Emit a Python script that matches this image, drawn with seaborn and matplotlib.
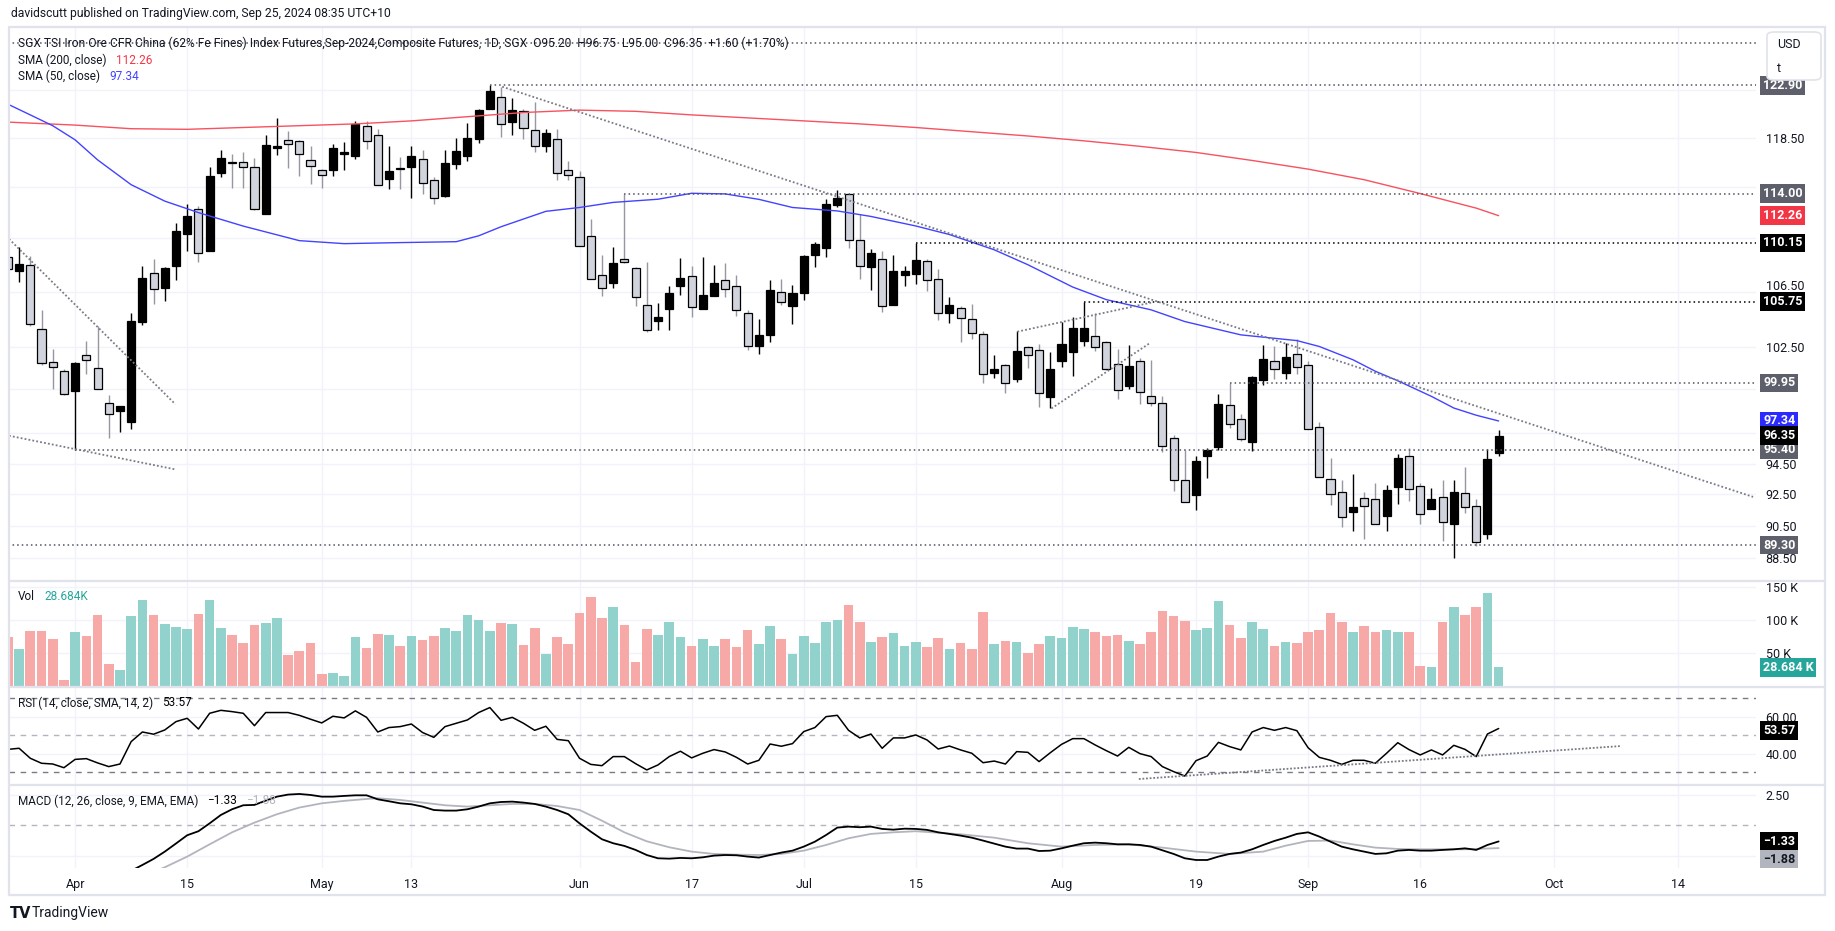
import numpy as np
import pandas as pd
import matplotlib
matplotlib.use("Agg")
import matplotlib.pyplot as plt
import seaborn as sns
from matplotlib.ticker import FixedLocator, NullLocator, FuncFormatter, NullFormatter
from matplotlib.patches import Rectangle, FancyBboxPatch
from matplotlib.lines import Line2D

# ---------------------------------------------------------------- data
dates = pd.bdate_range("2024-03-22", "2024-09-25")          # daily bars
bar = np.arange(len(dates)) - 6                               # 0 = 1 Apr 2024

open_ = [109.10, 108.02, 108.49, 103.78, 101.43, 100.80, 99.39, 101.88, 101.01, 98.59,
         98.04, 97.28, 104.26, 107.89, 106.75, 108.39, 110.84, 112.78, 109.57, 115.63,
         116.54, 116.54, 116.11, 112.37, 117.65, 118.33, 118.25, 116.70, 115.87, 115.84,
         117.16, 117.05, 119.45, 118.71, 115.15, 116.05, 116.11, 116.75, 115.07, 113.82,
         116.35, 117.05, 118.38, 120.87, 121.94, 119.81, 120.70, 119.12, 117.81, 118.38,
         115.87, 115.31, 110.66, 107.72, 107.10, 108.92, 108.25, 105.50, 104.32, 105.19,
         106.90, 107.65, 105.19, 106.14, 107.35, 106.90, 104.92, 102.57, 103.31, 106.46,
         105.41, 106.36, 109.20, 109.80, 113.13, 113.94, 110.36, 108.32, 108.92, 105.48,
         107.72, 107.77, 108.77, 107.42, 104.92, 105.28, 104.49, 103.41, 100.65, 101.21,
         100.24, 102.46, 102.26, 98.99, 101.49, 102.12, 102.88, 103.24, 102.83, 101.28,
         99.72, 101.49, 99.06, 98.58, 96.20, 93.46, 92.46, 94.99, 95.58, 98.45,
         97.48, 95.92, 100.17, 101.49, 100.61, 101.97, 101.19, 96.94, 93.51, 92.67,
         91.37, 92.29, 92.22, 91.12, 92.97, 95.01, 93.06, 91.58, 92.35, 90.60,
         92.61, 91.78, 89.97, 95.20]
high = [109.60, 109.85, 109.14, 105.13, 102.35, 100.90, 101.40, 102.88, 103.97, 99.10,
        98.36, 104.89, 108.44, 108.94, 108.35, 111.69, 113.20, 113.04, 116.16, 117.51,
        117.19, 117.35, 116.86, 118.71, 120.11, 119.07, 118.30, 117.84, 115.95, 118.00,
        118.14, 119.89, 119.92, 119.23, 117.84, 116.97, 117.84, 117.46, 115.31, 117.51,
        118.49, 119.70, 120.89, 122.90, 122.79, 121.79, 120.89, 121.51, 119.23, 119.23,
        116.62, 115.79, 112.00, 109.25, 109.85, 114.00, 108.30, 108.72, 105.65, 106.88,
        109.00, 108.37, 109.12, 108.50, 108.62, 107.75, 105.16, 104.51, 107.37, 107.45,
        107.00, 109.25, 110.21, 113.54, 114.28, 114.00, 112.40, 109.70, 109.55, 109.25,
        108.37, 110.15, 108.95, 108.20, 106.12, 105.41, 105.60, 103.65, 101.93, 101.28,
        103.60, 102.53, 102.72, 102.12, 104.27, 104.61, 105.75, 104.92, 102.90, 102.36,
        102.64, 101.70, 101.54, 99.06, 96.37, 95.43, 95.03, 95.50, 99.20, 99.95,
        97.84, 100.45, 102.63, 102.56, 102.75, 103.03, 101.45, 97.28, 94.88, 93.40,
        93.79, 92.67, 93.25, 93.12, 95.10, 95.54, 93.25, 92.89, 93.46, 93.40,
        94.31, 92.18, 95.47, 96.75]
low = [107.90, 107.19, 103.97, 101.20, 99.56, 99.10, 95.40, 100.59, 99.56, 96.22,
       96.63, 96.83, 104.07, 105.61, 105.79, 107.34, 109.52, 108.69, 109.52, 115.31,
       114.43, 114.43, 112.73, 112.37, 117.11, 116.00, 115.36, 114.75, 114.41, 115.36,
       115.84, 116.75, 117.57, 114.67, 114.35, 114.35, 113.64, 113.98, 113.20, 113.72,
       115.95, 116.57, 118.05, 120.87, 118.60, 118.76, 118.41, 117.30, 117.30, 115.09,
       115.04, 109.95, 107.40, 106.14, 106.76, 108.60, 105.41, 103.53, 103.72, 103.72,
       106.27, 104.61, 105.19, 106.14, 106.07, 104.68, 102.24, 101.96, 102.86, 105.48,
       104.10, 105.90, 108.30, 109.10, 112.97, 109.73, 107.45, 106.58, 104.97, 105.48,
       106.88, 107.07, 106.51, 104.39, 104.20, 102.81, 103.05, 99.95, 100.28, 99.27,
       100.02, 101.00, 98.28, 98.19, 101.07, 100.42, 102.53, 102.19, 100.88, 98.81,
       99.54, 98.47, 98.35, 95.26, 92.75, 92.03, 91.50, 93.53, 95.43, 96.87,
       95.98, 95.32, 99.78, 100.24, 100.24, 100.59, 96.81, 93.62, 91.80, 90.43,
       90.18, 89.70, 90.64, 90.18, 91.86, 92.08, 90.60, 91.58, 89.56, 88.51,
       91.33, 89.24, 89.66, 95.00]
close = [108.20, 108.59, 104.14, 101.32, 101.08, 99.17, 101.36, 101.58, 99.56, 97.78,
         98.36, 104.31, 107.54, 106.70, 108.29, 111.10, 112.26, 109.39, 115.41, 116.86,
         116.46, 116.11, 112.78, 117.89, 117.81, 117.97, 117.16, 116.19, 115.47, 117.67,
         117.35, 119.64, 118.25, 114.67, 115.81, 115.95, 117.00, 114.83, 113.67, 116.43,
         117.43, 118.46, 120.78, 122.39, 119.64, 120.81, 119.29, 117.84, 118.87, 115.63,
         115.47, 109.95, 107.42, 106.76, 108.62, 108.70, 106.12, 103.70, 104.63, 106.39,
         107.52, 105.36, 106.24, 107.12, 106.68, 105.14, 102.53, 103.34, 106.61, 105.73,
         106.39, 109.17, 110.09, 113.18, 113.62, 110.36, 108.37, 109.37, 105.45, 108.05,
         108.05, 108.87, 107.37, 104.92, 105.53, 104.56, 103.48, 100.58, 100.95, 99.95,
         102.19, 101.93, 99.27, 100.95, 102.72, 103.84, 103.84, 102.48, 100.95, 99.49,
         101.16, 99.33, 98.58, 95.68, 93.41, 92.03, 94.70, 95.43, 98.52, 97.14,
         96.14, 100.38, 101.63, 100.91, 101.75, 101.05, 96.81, 93.62, 92.54, 91.08,
         91.71, 91.75, 90.64, 92.76, 94.84, 92.82, 91.27, 92.22, 90.77, 92.67,
         91.71, 89.51, 94.77, 96.35]
volume_k = [75.1, 55.8, 83.2, 83.2, 71.1, 10.2, 82.2, 75.6, 107.6, 34.5,
            24.4, 106.1, 130.5, 107.6, 93.9, 89.3, 86.3, 109.1, 130.5, 87.8,
            77.2, 65.0, 92.4, 95.4, 103.0, 48.2, 52.8, 65.0, 19.3, 20.8,
            16.2, 74.1, 57.4, 78.7, 77.2, 60.4, 75.6, 69.5, 75.6, 87.8,
            83.2, 107.6, 100.0, 83.2, 95.4, 93.9, 61.9, 87.8, 49.7, 74.1,
            63.5, 110.7, 135.0, 103.0, 119.8, 92.4, 37.6, 86.3, 77.2, 97.0,
            74.1, 60.4, 71.1, 60.4, 71.1, 58.9, 84.8, 63.5, 90.9, 71.1,
            49.7, 75.6, 65.0, 97.0, 100.0, 122.8, 97.0, 66.5, 74.1, 80.2,
            61.6, 67.7, 59.9, 73.5, 56.9, 65.9, 56.9, 112.7, 64.4, 68.9,
            67.4, 50.8, 64.4, 76.5, 73.5, 90.1, 87.1, 82.5, 76.5, 78.0,
            68.9, 64.4, 82.5, 114.2, 107.2, 99.1, 85.6, 88.6, 129.3, 93.1,
            73.5, 97.6, 87.1, 61.4, 67.4, 65.9, 82.5, 85.6, 111.2, 97.6,
            82.5, 91.6, 82.5, 85.6, 82.5, 82.5, 31.2, 29.7, 97.6, 120.3,
            108.2, 120.3, 141.4, 28.684]
rsi = [42.3, 42.9, 37.5, 34.8, 34.4, 32.4, 36.9, 37.3, 35.0, 33.0,
       34.4, 46.5, 51.7, 50.5, 52.8, 57.3, 59.1, 53.3, 61.8, 63.4,
       62.7, 61.8, 55.1, 62.2, 62.2, 62.2, 60.7, 58.6, 56.6, 60.2,
       59.3, 63.1, 59.6, 51.7, 54.1, 54.6, 56.0, 51.4, 48.8, 54.6,
       56.4, 58.2, 62.2, 64.9, 58.0, 59.6, 56.4, 52.6, 54.8, 47.7,
       47.0, 37.5, 34.2, 33.5, 38.4, 38.4, 34.6, 31.2, 33.9, 38.4,
       41.3, 37.7, 40.2, 42.2, 40.9, 38.0, 34.4, 36.4, 45.2, 44.0,
       45.4, 51.9, 54.1, 60.0, 60.7, 52.6, 48.5, 50.6, 42.9, 48.5,
       48.5, 50.1, 47.4, 42.5, 44.1, 42.0, 40.2, 35.1, 36.0, 34.4,
       41.1, 40.7, 35.7, 40.5, 45.0, 48.1, 48.1, 44.7, 41.6, 38.7,
       43.4, 40.0, 38.4, 33.0, 30.3, 27.9, 36.2, 38.7, 46.1, 43.8,
       42.0, 51.7, 54.1, 52.6, 54.1, 52.4, 43.2, 38.0, 36.4, 34.2,
       36.4, 36.4, 34.8, 40.2, 45.9, 42.2, 39.3, 42.0, 39.3, 44.5,
       42.3, 38.4, 50.6, 53.57]
nan = np.nan
macd = [nan, nan, nan, nan, nan, nan, nan, nan, nan, nan,
        -4.30, -3.75, -3.27, -2.77, -2.17, -1.50, -0.82, -0.49, 0.16, 0.85,
        1.32, 1.65, 1.68, 2.03, 2.36, 2.53, 2.58, 2.50, 2.36, 2.36,
        2.42, 2.47, 2.47, 2.14, 1.98, 1.81, 1.73, 1.54, 1.26, 1.21,
        1.21, 1.32, 1.54, 1.81, 1.92, 1.95, 1.87, 1.76, 1.54, 1.26,
        0.91, 0.16, -0.52, -1.15, -1.48, -1.70, -2.03, -2.45, -2.72, -2.75,
        -2.69, -2.72, -2.64, -2.50, -2.45, -2.47, -2.58, -2.66, -2.45, -2.25,
        -2.09, -1.76, -1.35, -0.80, -0.19, -0.11, -0.16, -0.11, -0.30, -0.36,
        -0.28, -0.30, -0.38, -0.58, -0.71, -0.85, -1.02, -1.26, -1.51, -1.76,
        -1.92, -1.92, -2.12, -2.09, -1.90, -1.68, -1.48, -1.43, -1.48, -1.57,
        -1.57, -1.62, -1.76, -2.06, -2.36, -2.72, -2.86, -2.86, -2.58, -2.36,
        -2.25, -1.98, -1.62, -1.29, -1.02, -0.71, -0.58, -0.93, -1.35, -1.76,
        -1.98, -2.17, -2.36, -2.31, -2.09, -2.03, -2.09, -2.09, -2.03, -1.98,
        -1.90, -2.03, -1.62, -1.33]
signal_bar = [7, 8, 10, 12, 14, 16, 18, 20, 22, 24, 26, 27, 29, 31, 33, 35, 37, 39, 41, 43,
              45, 47, 49, 51, 53, 55, 57, 59, 61, 63, 65, 67, 69, 71, 73, 75, 79, 82, 85, 88,
              91, 94, 97, 100, 103, 106, 108, 110, 112, 114, 116, 118, 120, 122, 124, 127]
signal = [-3.85, -3.46, -2.58, -1.57, -0.58, 0.22, 0.91, 1.46, 1.81, 2.01, 2.17, 2.23, 2.09,
          1.87, 1.65, 1.54, 1.65, 1.76, 1.76, 1.59, 1.26, 0.38, -0.58, -1.32, -1.81, -2.17,
          -2.36, -2.42, -2.45, -2.36, -2.09, -1.62, -1.07, -0.71, -0.58, -0.49, -0.74, -1.02,
          -1.48, -1.76, -1.62, -1.57, -1.84, -2.17, -2.36, -2.17, -1.68, -1.29, -1.26, -1.57,
          -1.84, -1.95, -1.98, -1.98, -1.98, -1.88]
sma200_bar = [-6, 0, 5, 10, 15, 20, 25, 30, 35, 40, 45, 50, 55, 60, 65, 70, 75, 80, 85, 90,
              95, 100, 105, 110, 115, 120, 125, 127]
sma200 = [119.80, 119.55, 119.25, 119.20, 119.35, 119.50, 119.65, 119.90, 120.25, 120.60,
          120.80, 120.70, 120.40, 120.15, 119.90, 119.65, 119.35, 119.00, 118.65, 118.25,
          117.80, 117.30, 116.65, 115.95, 115.10, 114.00, 112.85, 112.26]
sma50_bar = [-6, -4, -2, 0, 2, 5, 8, 11, 15, 20, 24, 29, 34, 36, 38, 40, 42, 45, 48, 52,
             55, 58, 61, 64, 68, 71, 75, 78, 82, 85, 89, 92, 96, 99, 104, 109, 111, 114, 116,
             118, 121, 123, 125, 127]
sma50 = [121.30, 120.40, 119.50, 118.33, 116.70, 114.70, 113.40, 112.50, 111.45, 110.33,
         110.10, 110.18, 110.25, 110.70, 111.40, 112.00, 112.60, 112.90, 113.30, 113.55,
         114.02, 113.97, 113.54, 112.90, 112.63, 112.20, 111.46, 110.80, 109.63, 108.50,
         106.83, 105.90, 105.15, 104.30, 103.34, 102.93, 102.51, 101.57, 100.76, 100.10,
         99.02, 98.22, 97.73, 97.34]
# drawn horizontal levels (price, first bar, colour of tag)
level_price = [126.55, 122.90, 114.00, 110.15, 105.75, 99.95, 95.40, 89.30]
level_start = [-6, 37, 49, 75, 90, 103, 0, -6]
level_dark = [False, False, False, True, True, False, False, False]
# drawn trend lines ((bar, price), (bar, price))
trend_lines = [((38.1, 122.78), (149.7, 92.34)),
               ((-5.9, 110.46), (8.94, 98.48)),
               ((-5.9, 96.35), (8.94, 94.12)),
               ((84.06, 103.57), (96.1, 105.70)),
               ((87.1, 98.19), (95.9, 102.76))]
rsi_trend = ((94.9, 26.3), (137.9, 44.1))
x_tick_labels = ["Apr", "15", "May", "13", "Jun", "17", "Jul", "15", "Aug", "19", "Sep", "16", "Oct", "14"]
price_ticks = [88.5, 90.5, 92.5, 94.5, 96.5, 99.5, 102.5, 106.5, 110.5, 114.5, 118.5, 122.5]
price_hidden = [96.5, 99.5, 106.5, 110.5, 114.5, 122.5]   # labels covered / crowded by tags

# ---------------------------------------------------------------- style
sns.set_theme(style="white")
plt.rcParams["font.family"] = ["Roboto", "DejaVu Sans"]
TXT = "#131722"
GRID = "#f0f3fa"
FRAME = "#e0e3eb"
W, H = 1835, 931
fig = plt.figure(figsize=(W / 100, H / 100), dpi=100)
fig.patch.set_facecolor("white")


def px_axes(x0, y0, x1, y1):
    return fig.add_axes([x0 / W, 1 - y1 / H, (x1 - x0) / W, (y1 - y0) / H])


LEFT, RIGHT = 9, 1756
axp = px_axes(LEFT, 27, RIGHT, 581)
axv = px_axes(LEFT, 581, RIGHT, 687)
axr = px_axes(LEFT, 687, RIGHT, 785)
axm = px_axes(LEFT, 785, RIGHT, 868)
axes = [axp, axv, axr, axm]

o = np.array(open_); h = np.array(high); l = np.array(low); c = np.array(close)
up = c >= o

# ---------------------------------------------------------------- price pane
axp.set_yscale("log")
axp.vlines(bar[~up], l[~up], h[~up], color="#9598a1", lw=1, zorder=3)
axp.vlines(bar[up], l[up], h[up], color="#000000", lw=1, zorder=3)
lo_b = np.minimum(o, c); hi_b = np.maximum(o, c)
axp.bar(bar, hi_b - lo_b, bottom=lo_b, width=0.72,
        color=np.where(up, "#000000", "#d1d4dc"), edgecolor="#000000", linewidth=0.9, zorder=4)
sns.lineplot(x=sma200_bar, y=sma200, ax=axp, color="#f7525f", lw=1.0, zorder=5)
sns.lineplot(x=sma50_bar, y=sma50, ax=axp, color="#4343ff", lw=1.0, zorder=5)

for p, s, dark in zip(level_price, level_start, level_dark):
    axp.plot([s, 149.96], [p, p], ls=(0, (1, 2)), color="#000000" if dark else "#50535e",
             lw=1.1, zorder=6)
for (x0, y0), (x1, y1) in trend_lines:
    axp.plot([x0, x1], [y0, y1], ls=(0, (1, 1.2)), color="#787b86", lw=1.3, zorder=6)

axp.set_ylim(87.10, 127.98)
axp.yaxis.set_major_locator(FixedLocator(price_ticks))
axp.yaxis.set_minor_locator(NullLocator())
axp.yaxis.set_major_formatter(FuncFormatter(
    lambda v, p: "" if any(abs(v - q) < 1e-6 for q in price_hidden) else f"{v:.2f}"))
axp.yaxis.set_minor_formatter(NullFormatter())
# 106.50 label sits just above the 105.75 tag in the reference
axp.annotate("106.50", xy=(1, 106.5), xycoords=("axes fraction", "data"), xytext=(9.7, 5),
             textcoords="offset pixels", ha="left", va="center", fontsize=9, color=TXT,
             annotation_clip=False, zorder=1)

# ---------------------------------------------------------------- volume pane
vdf = pd.DataFrame({"bar": bar, "vol": volume_k, "dir": np.where(up, "up", "down")})
sns.barplot(data=vdf, x="bar", y="vol", hue="dir", native_scale=True, dodge=False,
            palette={"up": "#92d2cc", "down": "#f7a9a7"}, width=0.86, saturation=1,
            errorbar=None, legend=False, linewidth=0, ax=axv)
axv.set_ylim(-1, 159.5)
axv.yaxis.set_major_locator(FixedLocator([50, 100, 150]))
axv.yaxis.set_major_formatter(FuncFormatter(lambda v, p: f"{int(v)} K"))

# ---------------------------------------------------------------- RSI pane
sns.lineplot(x=bar, y=rsi, ax=axr, color="#000000", lw=1.1, zorder=5)
axr.axhline(70, color="#787b86", ls=(0, (4, 4)), lw=1, zorder=2)
axr.axhline(50, color="#b2b5be", ls=(0, (4, 4)), lw=1, zorder=2)
axr.axhline(30, color="#787b86", ls=(0, (4, 4)), lw=1, zorder=2)
axr.plot([rsi_trend[0][0], rsi_trend[1][0]], [rsi_trend[0][1], rsi_trend[1][1]],
         ls=(0, (1, 1)), color="#787b86", lw=1.3, zorder=6)
axr.set_ylim(23.06, 76.0)
axr.yaxis.set_major_locator(FixedLocator([40, 60]))
axr.yaxis.set_major_formatter(FuncFormatter(lambda v, p: f"{v:.2f}"))

# ---------------------------------------------------------------- MACD pane
axm.axhline(0, color="#b2b5be", ls=(0, (4, 4)), lw=1, zorder=2)
sns.lineplot(x=signal_bar, y=signal, ax=axm, color="#b2b5be", lw=1.3, zorder=4)
sns.lineplot(x=bar, y=macd, ax=axm, color="#000000", lw=1.3, zorder=5)
axm.set_ylim(-3.52, 3.32)
axm.yaxis.set_major_locator(FixedLocator([-2.5, 2.5]))
axm.yaxis.set_major_formatter(FuncFormatter(lambda v, p: f"{v:.2f}" if v > 0 else ""))

# ---------------------------------------------------------------- common axes styling
xt_pos = [0, 10, 22, 30, 45, 55, 65, 75, 88, 100, 110, 120, 131.9, 143.0]
for ax in axes:
    for sp in ax.spines.values():
        sp.set_visible(False)
    ax.set_xlim(-5.9, 149.96)
    ax.set_xticks(xt_pos)
    ax.set_axisbelow(True)
    ax.grid(True, color=GRID, lw=1)
    ax.yaxis.tick_right()
    ax.tick_params(axis="both", length=0, labelsize=9, labelcolor=TXT)
    ax.tick_params(axis="y", pad=7)
    ax.set_xlabel("")
    ax.set_ylabel("")
for ax in (axp, axv, axr):
    ax.tick_params(labelbottom=False)
axm.set_xticklabels(x_tick_labels)
axm.tick_params(axis="x", pad=7)


def tag(ax, y, s, fc, tc="white", dy=0):
    ax.annotate(s, xy=(1, y), xycoords=("axes fraction", "data"), xytext=(7, dy),
                textcoords="offset pixels", ha="left", va="center", fontsize=9, color=tc,
                fontweight="bold", annotation_clip=False, zorder=20,
                bbox=dict(boxstyle="square,pad=0.22", fc=fc, ec="none"))


GREY_TAG = "#5d606b"
tag(axp, 122.90, "122.90", GREY_TAG)
tag(axp, 114.00, "114.00", GREY_TAG)
tag(axp, 112.26, "112.26", "#f23645")
tag(axp, 110.15, "110.15", "#000000")
tag(axp, 105.75, "105.75", "#000000")
tag(axp, 99.95, "99.95", GREY_TAG)
tag(axp, 97.34, "97.34", "#2b2bff")
tag(axp, 95.40, "95.40", GREY_TAG)
tag(axp, 96.35, "96.35", "#000000")
tag(axp, 89.30, "89.30", GREY_TAG)
tag(axv, volume_k[-1], "28.684 K", "#26a69a")
tag(axr, rsi[-1], "53.57", "#000000", dy=-2)
tag(axm, macd[-1], "\u22121.33", "#000000")
tag(axm, signal[-1], "\u22121.88", "#b2b5be", tc=TXT, dy=-11)

# ---------------------------------------------------------------- frame & separators
fig.add_artist(Rectangle((9 / W, 1 - 895 / H), (1825 - 9) / W, (895 - 27) / H,
                         transform=fig.transFigure, fill=False, ec=FRAME, lw=1.6))
for yy in (581, 687, 785):
    fig.add_artist(Line2D([9 / W, 1825 / W], [1 - yy / H] * 2, transform=fig.transFigure,
                          color=FRAME, lw=1.6))
fig.add_artist(FancyBboxPatch((1767 / W, 1 - 80 / H), 54 / W, 48 / H,
                              boxstyle="round,pad=0,rounding_size=0.004",
                              transform=fig.transFigure, fc="white", ec=FRAME, lw=1.2))


def ftxt(x, y, s, color=TXT, size=8.5, **kw):
    return fig.text(x / W, 1 - y / H, s, color=color, fontsize=size, va="center", ha="left", **kw)


def chain(x, y, parts, size=8.5, gap=9):
    r = fig.canvas.get_renderer()
    for s, col in parts:
        t = ftxt(x, y, s, col, size)
        x += t.get_window_extent(r).width + gap


ftxt(1777, 44, "USD", size=9)
ftxt(1777, 68, "t", size=9)
ftxt(11, 14, "davidscutt published on TradingView.com, Sep 25, 2024 08:35 UTC+10", size=8.7)
ftxt(18, 43, "SGX TSI Iron Ore CFR China (62% Fe Fines) Index Futures,Sep-2024,Composite Futures, 1D, SGX"
     "  O95.20  H96.75  L95.00  C96.35  +1.60 (+1.70%)", size=8.65)
chain(18, 60, [("SMA (200, close)", TXT), ("112.26", "#f23645")])
chain(18, 76, [("SMA (50, close)", TXT), ("97.34", "#4343ff")])
chain(18, 597, [("Vol", TXT), ("28.684K", "#26a69a")])
chain(18, 703, [("RSI (14, close, SMA, 14, 2)", TXT), ("53.57", "#000000")])
chain(18, 801, [("MACD (12, 26, close, 9, EMA, EMA)", TXT), ("\u22121.33", "#000000"),
                ("\u22121.88", "#b2b5be")])
ftxt(10, 913, "TV", size=10.5, fontweight="heavy", family=["DejaVu Sans"])
ftxt(32, 913, "TradingView", size=10)

fig.savefig("out.png", dpi=100, facecolor="white")
